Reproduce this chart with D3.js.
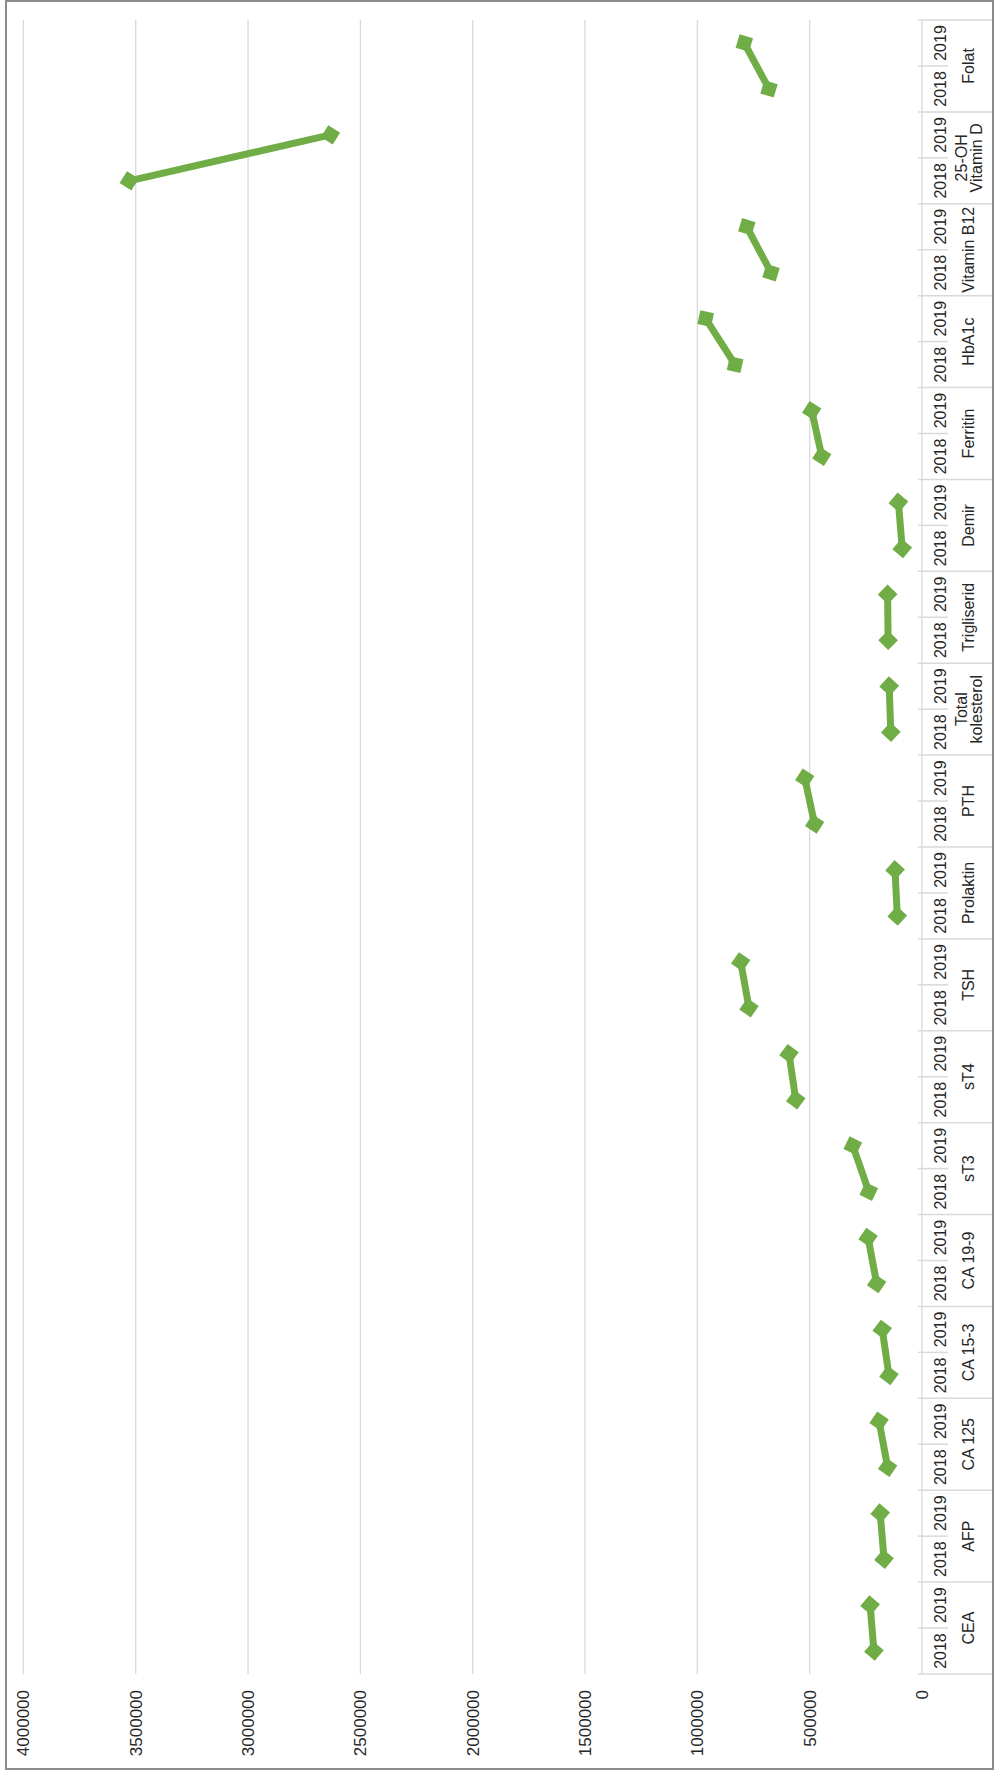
<!DOCTYPE html>
<html>
<head>
<meta charset="utf-8">
<script src="https://cdn.jsdelivr.net/npm/d3@7"></script>
<style>
  html, body { margin: 0; padding: 0; background: #fff; }
  svg { display: block; }
  text { font-family: "Liberation Sans", Arial, sans-serif; fill: #262626; }
</style>
</head>
<body>
<svg id="chart" width="995" height="1774"></svg>
<script>
// ---- data ----
const categories = ["CEA", "AFP", "CA 125", "CA 15-3", "CA 19-9", "sT3", "sT4", "TSH", "Prolaktin", "PTH",
  "Total\nkolesterol", "Trigliserid", "Demir", "Ferritin", "HbA1c", "Vitamin B12", "25-OH\nVitamin D", "Folat"];
const years = ["2018", "2019"];
const values2018 = [214000, 169000, 153000, 147000, 202000, 237000, 562000, 770000, 110000, 478000,
  139000, 151000, 88000, 446000, 832000, 672000, 3529000, 681000];
const values2019 = [231000, 186000, 191000, 177000, 240000, 308000, 592000, 807000, 120000, 522000,
  146000, 153000, 105000, 491000, 963000, 780000, 2633000, 791000];
const yTickValues = [0, 500000, 1000000, 1500000, 2000000, 2500000, 3000000, 3500000, 4000000];

// ---- layout (chart is drawn in a rotated frame) ----
const W = 995, H = 1774;
const green = "#70AD47", gridColor = "#d9d9d9";
const svg = d3.select("#chart");

// outer frame
svg.append("rect").attr("x", 6).attr("y", 1).attr("width", 987).attr("height", 1768)
  .attr("fill", "none").attr("stroke", "#8c8c8c").attr("stroke-width", 2);

// rotated group: local x -> up the page, local y -> across
const g = svg.append("g").attr("transform", `translate(0,${H}) rotate(-90)`);

const x = d3.scaleBand().domain(categories).range([100, 1754]).padding(0);
const xi = d3.scaleBand().domain(years).range([0, x.bandwidth()]).padding(0);
const y = d3.scaleLinear().domain([0, 4000000]).range([922, 23.4]);

// gridlines
g.append("g").selectAll("line").data(yTickValues).join("line")
  .attr("x1", 100).attr("x2", 1754)
  .attr("y1", d => y(d)).attr("y2", d => y(d))
  .attr("stroke", gridColor).attr("stroke-width", 1.3);

// value axis labels
const yAxis = g.append("g").attr("transform", "translate(100,0)")
  .call(d3.axisLeft(y).tickValues(yTickValues).tickSize(0).tickPadding(16).tickFormat(d3.format("d")));
yAxis.select(".domain").remove();
yAxis.selectAll("text").style("font-size", "17px").attr("fill", "#262626")
  .style("font-family", '"Liberation Sans", Arial, sans-serif');

// category axis ticks
const y0 = y(0);
const bounds = categories.map(c => x(c)).concat([x(categories[categories.length - 1]) + x.bandwidth()]);
g.append("g").selectAll("line").data(bounds).join("line")
  .attr("x1", d => d).attr("x2", d => d)
  .attr("y1", y0 - 4).attr("y2", y0 + 70)
  .attr("stroke", gridColor).attr("stroke-width", 1.5);
g.append("g").selectAll("line").data(categories).join("line")
  .attr("x1", c => x(c) + xi("2019")).attr("x2", c => x(c) + xi("2019"))
  .attr("y1", y0 - 4).attr("y2", y0 + 26)
  .attr("stroke", gridColor).attr("stroke-width", 1.5);

// year labels
const yearLabels = [];
categories.forEach(c => years.forEach(yr => yearLabels.push({ c, yr })));
g.append("g").selectAll("text").data(yearLabels).join("text")
  .attr("x", d => x(d.c) + xi(d.yr) + xi.bandwidth() / 2)
  .attr("y", y0 + 18)
  .attr("text-anchor", "middle").attr("dominant-baseline", "central")
  .style("font-size", "16px")
  .text(d => d.yr);

// category labels
const catText = g.append("g").selectAll("text").data(categories).join("text")
  .attr("x", c => x(c) + x.bandwidth() / 2)
  .attr("text-anchor", "middle").attr("dominant-baseline", "central")
  .style("font-size", "16px");
catText.each(function (c) {
  const lines = c.split("\n");
  const t = d3.select(this);
  lines.forEach((ln, i) => {
    t.append("tspan").attr("x", x(c) + x.bandwidth() / 2)
      .attr("y", y0 + 46 + (i - (lines.length - 1) / 2) * 15)
      .text(ln);
  });
});

// series: one short line per category
const segs = categories.map((c, i) => {
  const p1 = [x(c) + xi("2018") + xi.bandwidth() / 2, y(values2018[i])];
  const p2 = [x(c) + xi("2019") + xi.bandwidth() / 2, y(values2019[i])];
  const ang = Math.atan2(p2[1] - p1[1], p2[0] - p1[0]) * 180 / Math.PI;
  return { c, pts: [p1, p2], ang };
});
const line = d3.line();
g.append("g").selectAll("path").data(segs).join("path")
  .attr("d", d => line(d.pts))
  .attr("fill", "none").attr("stroke", green).attr("stroke-width", 7);

const sym = d3.symbol().type(d3.symbolSquare).size(195);
const markers = [];
segs.forEach(s => s.pts.forEach(p => markers.push({ p, ang: s.ang })));
g.append("g").selectAll("path").data(markers).join("path")
  .attr("d", sym())
  .attr("transform", d => `translate(${d.p[0]},${d.p[1]}) rotate(${d.ang + 45})`)
  .attr("fill", green);
</script>
</body>
</html>
